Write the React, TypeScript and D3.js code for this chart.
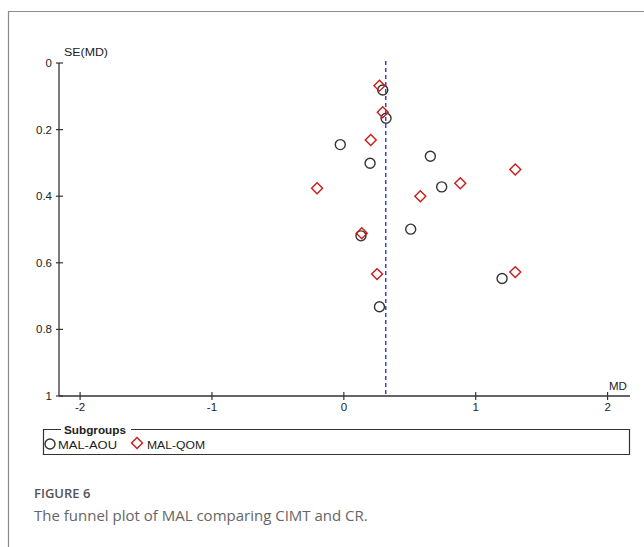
import React, { useRef, useEffect } from 'react';
import * as d3 from 'd3';

// studies (MD, SE)
const aouMD = [0.295, 0.32, -0.027, 0.199, 0.656, 0.742, 0.13, 0.507, 1.2, 0.27];
const aouSE = [0.081, 0.166, 0.245, 0.301, 0.28, 0.372, 0.519, 0.499, 0.647, 0.732];
const qomMD = [0.27, 0.295, 0.204, -0.203, 0.58, 0.883, 1.3, 0.136, 0.252, 1.3];
const qomSE = [0.068, 0.148, 0.231, 0.376, 0.4, 0.361, 0.32, 0.511, 0.634, 0.628];
const pooledMD = 0.318;
const xTicks = [-2, -1, 0, 1, 2];
const yTicks = [0, 0.2, 0.4, 0.6, 0.8, 1];
const groups = ['MAL-AOU', 'MAL-QOM'];

const App = () => {
  const svgRef = useRef<SVGSVGElement>(null);

  useEffect(() => {
    const w = 644;
    const h = 547;
    const svg = d3.select(svgRef.current).attr('width', w).attr('height', h);
    svg.selectAll('*').remove();

    const font = "'Liberation Sans', Arial, sans-serif";

    // outer frame
    svg.append('path').attr('d', 'M8.5,547 L8.5,11.5 L644,11.5')
      .attr('fill', 'none').attr('stroke', '#8a8a8a').attr('stroke-width', 1.2);

    const x = d3.scaleLinear().domain([-2.16, 2.17]).range([59, 630]);
    const y = d3.scaleLinear().domain([0, 1]).range([63, 396]);

    const g = svg.append('g').attr('font-family', font).attr('fill', '#222');

    // axes
    g.append('line').attr('x1', 59).attr('x2', 59).attr('y1', y(0)).attr('y2', y(1))
      .attr('stroke', '#333').attr('stroke-width', 1.3);
    g.append('line').attr('x1', x.range()[0]).attr('x2', x.range()[1]).attr('y1', y(1)).attr('y2', y(1))
      .attr('stroke', '#333').attr('stroke-width', 1.3);

    g.selectAll('.yt').data(yTicks).join('line')
      .attr('x1', 56).attr('x2', 63).attr('y1', d => y(d)).attr('y2', d => y(d))
      .attr('stroke', '#333').attr('stroke-width', 1.2);
    g.selectAll('.yl').data(yTicks).join('text')
      .attr('x', 52).attr('y', d => y(d) + 4).attr('text-anchor', 'end')
      .attr('font-size', 11.5).text(d => String(d));

    g.selectAll('.xt').data(xTicks).join('line')
      .attr('x1', d => x(d)).attr('x2', d => x(d)).attr('y1', y(1) - 4).attr('y2', y(1) + 4)
      .attr('stroke', '#333').attr('stroke-width', 1.2);
    g.selectAll('.xl').data(xTicks).join('text')
      .attr('x', d => x(d)).attr('y', y(1) + 15).attr('text-anchor', 'middle')
      .attr('font-size', 11.5).text(d => String(d));

    g.append('text').attr('x', 64).attr('y', 56).attr('font-size', 11.5)
      .attr('textLength', 44).attr('lengthAdjust', 'spacingAndGlyphs').text('SE(MD)');
    g.append('text').attr('x', 609).attr('y', 390).attr('font-size', 11.5).text('MD');

    // pooled estimate
    g.append('line').attr('x1', x(pooledMD)).attr('x2', x(pooledMD)).attr('y1', 61).attr('y2', y(1))
      .attr('stroke', '#2222dd').attr('stroke-width', 1.3).attr('stroke-dasharray', '4,3');

    const diamond = d3.symbol().type(d3.symbolSquare).size(60);

    g.selectAll('.aou').data(aouMD).join('circle')
      .attr('cx', d => x(d)).attr('cy', (d, i) => y(aouSE[i])).attr('r', 5)
      .attr('fill', 'none').attr('stroke', '#333').attr('stroke-width', 1.4);

    g.selectAll('.qom').data(qomMD).join('path')
      .attr('d', diamond)
      .attr('transform', (d, i) => `translate(${x(d)},${y(qomSE[i])}) rotate(45)`)
      .attr('fill', 'none').attr('stroke', '#cc1a1a').attr('stroke-width', 1.4);

    // legend
    const lg = g.append('g');
    lg.append('path').attr('d', 'M61,429.5 L43.5,429.5 L43.5,454.5 L629.5,454.5 L629.5,429.5 L131,429.5')
      .attr('fill', 'none').attr('stroke', '#333').attr('stroke-width', 1.2);
    lg.append('text').attr('x', 64).attr('y', 434).attr('font-size', 11.5).attr('font-weight', 'bold')
      .attr('textLength', 62).attr('lengthAdjust', 'spacingAndGlyphs').text('Subgroups');
    lg.append('circle').attr('cx', 50).attr('cy', 444).attr('r', 5)
      .attr('fill', 'none').attr('stroke', '#333').attr('stroke-width', 1.4);
    lg.append('text').attr('x', 58).attr('y', 449).attr('font-size', 11)
      .attr('textLength', 59).attr('lengthAdjust', 'spacingAndGlyphs').text(groups[0]);
    lg.append('path').attr('d', diamond).attr('transform', 'translate(137,443) rotate(45)')
      .attr('fill', 'none').attr('stroke', '#cc1a1a').attr('stroke-width', 1.4);
    lg.append('text').attr('x', 147).attr('y', 449).attr('font-size', 11)
      .attr('textLength', 58).attr('lengthAdjust', 'spacingAndGlyphs').text(groups[1]);

    // caption
    svg.append('text').attr('x', 34).attr('y', 498).attr('font-family', "'Open Sans', sans-serif")
      .attr('font-size', 13).attr('font-weight', 600).attr('fill', '#555').text('FIGURE 6');
    svg.append('text').attr('x', 34).attr('y', 521).attr('font-family', "'Open Sans', sans-serif")
      .attr('font-size', 15).attr('fill', '#666').text('The funnel plot of MAL comparing CIMT and CR.');
  }, []);

  return (
    <div style={{ position: 'absolute', left: 0, top: 0 }}>
      <svg ref={svgRef} style={{ display: 'block', background: '#fff' }}></svg>
    </div>
  );
};

export default App;
